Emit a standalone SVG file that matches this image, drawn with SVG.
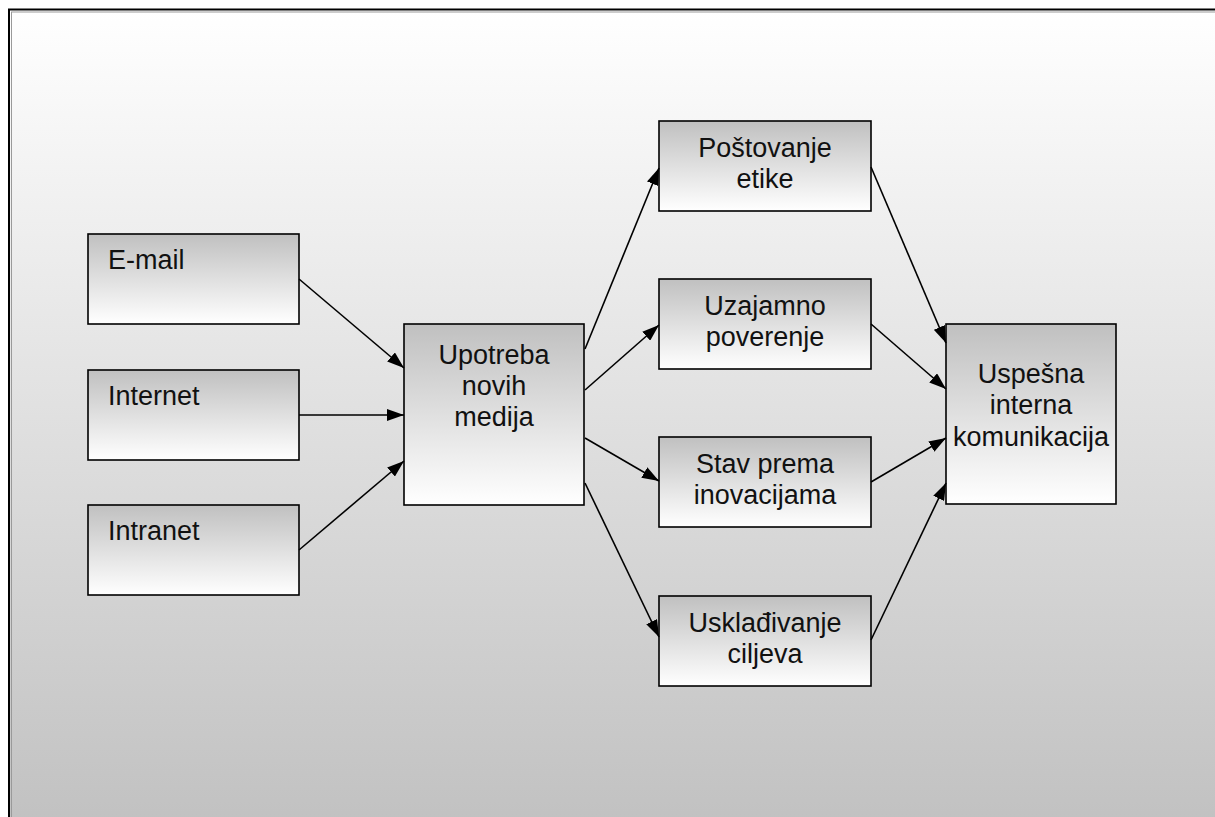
<svg xmlns="http://www.w3.org/2000/svg" width="1215" height="817" viewBox="0 0 1215 817">
<defs>
<linearGradient id="bg" x1="0" y1="0" x2="0" y2="1">
<stop offset="0" stop-color="#ffffff"/>
<stop offset="1" stop-color="#c0c0c0"/>
</linearGradient>
<linearGradient id="box" x1="0" y1="0" x2="0" y2="1">
<stop offset="0" stop-color="#c0c0c0"/>
<stop offset="1" stop-color="#ffffff"/>
</linearGradient>
<marker id="ah" viewBox="0 0 17 12" refX="17" refY="6" markerWidth="17" markerHeight="12" markerUnits="userSpaceOnUse" orient="auto">
<path d="M0,0 L17,6 L0,12 Z" fill="#000"/>
</marker>
<style>
.n rect{fill:url(#box);stroke:#000;stroke-width:1.6}
.n text{font-family:"Liberation Sans",Arial,sans-serif;font-size:27px;fill:#111}
.cn line{stroke:#000;stroke-width:1.6;marker-end:url(#ah)}
</style>
</defs>
<rect x="0" y="0" width="1215" height="817" fill="#fff"/>
<rect x="9" y="9.5" width="1230" height="830" fill="url(#bg)" stroke="#000" stroke-width="2"/>
<rect x="11.5" y="12" width="1230" height="830" fill="none" stroke="#9a9a9a" stroke-width="1"/>

<g id="email" class="n"><rect x="88" y="234" width="211" height="90"/><text x="108" y="269">E-mail</text></g>
<g id="internet" class="n"><rect x="88" y="370" width="211" height="90"/><text x="108" y="405">Internet</text></g>
<g id="intranet" class="n"><rect x="88" y="505" width="211" height="90"/><text x="108" y="540">Intranet</text></g>

<g id="upotreba" class="n"><rect x="404" y="324" width="180" height="181"/>
<text text-anchor="middle"><tspan x="494" y="364">Upotreba</tspan><tspan x="494" y="395">novih</tspan><tspan x="494" y="426">medija</tspan></text></g>

<g id="postovanje" class="n"><rect x="659" y="121" width="212" height="90"/>
<text text-anchor="middle"><tspan x="765" y="157">Poštovanje</tspan><tspan x="765" y="188">etike</tspan></text></g>
<g id="uzajamno" class="n"><rect x="659" y="279" width="212" height="90"/>
<text text-anchor="middle"><tspan x="765" y="315">Uzajamno</tspan><tspan x="765" y="346">poverenje</tspan></text></g>
<g id="stav" class="n"><rect x="659" y="437" width="212" height="90"/>
<text text-anchor="middle"><tspan x="765" y="473">Stav prema</tspan><tspan x="765" y="504">inovacijama</tspan></text></g>
<g id="uskladjivanje" class="n"><rect x="659" y="596" width="212" height="90"/>
<text text-anchor="middle"><tspan x="765" y="632">Usklađivanje</tspan><tspan x="765" y="663">ciljeva</tspan></text></g>

<g id="uspesna" class="n"><rect x="946" y="324" width="170" height="180"/>
<text text-anchor="middle"><tspan x="1031" y="383">Uspešna</tspan><tspan x="1031" y="414">interna</tspan><tspan x="1031" y="446">komunikacija</tspan></text></g>

<g id="connectors" class="cn">
<line x1="299" y1="279" x2="404" y2="368"/>
<line x1="299" y1="415" x2="404" y2="415"/>
<line x1="299" y1="550" x2="404" y2="461"/>
<line x1="585" y1="349" x2="659" y2="168"/>
<line x1="585" y1="390" x2="659" y2="325"/>
<line x1="585" y1="438" x2="659" y2="481"/>
<line x1="585" y1="483" x2="659" y2="637"/>
<line x1="871" y1="167" x2="946" y2="343"/>
<line x1="871" y1="324" x2="946" y2="389"/>
<line x1="871" y1="482" x2="946" y2="438"/>
<line x1="871" y1="640" x2="946" y2="483"/>
</g>
</svg>
